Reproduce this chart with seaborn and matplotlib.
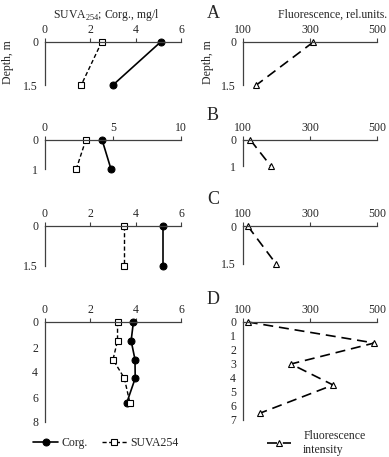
import pandas as pd
import numpy as np
import matplotlib
matplotlib.use("Agg")
from matplotlib import pyplot as plt
import seaborn as sns

sns.set_style("white")
plt.rcParams['font.family'] = ['Liberation Serif', 'DejaVu Serif']
plt.rcParams['mathtext.fontset'] = 'custom'
plt.rcParams['mathtext.rm'] = 'Liberation Serif'

# depth of samples, m
depth_a = [0, 1.5]
depth_b = [0, 1]
depth_c = [0, 1.5]
depth_d = [0, 1.5, 3, 4.5, 6.5]

# Corg., mg/l
corg_a = [5.1, 3.0]
corg_b = [4.2, 4.85]
corg_c = [5.2, 5.2]
corg_d = [3.9, 3.8, 3.97, 3.98, 3.6]

# SUVA254
suva_a = [2.5, 1.6]
suva_b = [3.0, 2.3]
suva_c = [3.5, 3.5]
suva_d = [3.2, 3.2, 3.0, 3.5, 3.75]

# fluorescence, rel. units
fluor_a = [310, 140]
fluor_b = [122, 183]
fluor_c = [114, 199]
fluor_d = [114, 492, 243, 369, 152]

panels = ["A", "B", "C", "D"]
depths = [depth_a, depth_b, depth_c, depth_d]
corgs = [corg_a, corg_b, corg_c, corg_d]
suvas = [suva_a, suva_b, suva_c, suva_d]
fluors = [fluor_a, fluor_b, fluor_c, fluor_d]

left_xlim = [(0, 6), (0, 10), (0, 6), (0, 6)]
left_xticks = [[0, 2, 4, 6], [0, 5, 10], [0, 2, 4, 6], [0, 2, 4, 6]]
ymax_left = [1.5, 1, 1.5, 8]
ymax_right = [1.5, 1, 1.5, 7]
yticks_left = [[0, 1.5], [0, 1], [0, 1.5], [0, 2, 4, 6, 8]]
yticks_right = [[0, 1.5], [0, 1], [0, 1.5], list(range(8))]

W, H = 389, 457
fig = plt.figure(figsize=(W / 100, H / 100), dpi=100)

# rows in pixels: (top, bottom left, bottom right)
rows = [(42, 85, 85), (140, 169, 166), (226, 266, 264), (322, 422, 420)]
lx0, lx1 = 45, 181
rx0, rx1 = 243, 377

axc = "#404040"
fs = 8.5


def style(ax, ymax, yt):
    for s in ["right", "bottom"]:
        ax.spines[s].set_visible(False)
    for s in ["top", "left"]:
        ax.spines[s].set_color(axc)
        ax.spines[s].set_linewidth(0.9)
    ax.xaxis.tick_top()
    ax.set_ylim(ymax, 0)
    ax.set_yticks(yt)
    ax.set_yticklabels([("%g" % v) for v in yt])
    ax.tick_params(axis="both", direction="out", length=3, width=0.8,
                   color=axc, labelsize=fs, pad=2)
    ax.tick_params(axis="x", pad=1)
    ax.set_xlabel("")
    ax.set_ylabel("")
    ax.grid(False)


handles = {}
for i in range(4):
    top, bl, br = rows[i]
    axl = fig.add_axes([lx0 / W, 1 - bl / H, (lx1 - lx0) / W, (bl - top) / H])
    axr = fig.add_axes([rx0 / W, 1 - br / H, (rx1 - rx0) / W, (br - top) / H])

    df = pd.DataFrame({"depth": depths[i], "corg": corgs[i],
                       "suva": suvas[i], "fluor": fluors[i]})

    sns.lineplot(data=df, x="corg", y="depth", sort=False, estimator=None,
                 ax=axl, color="black", lw=1.2, marker="o", ms=5,
                 mfc="black", mec="black", clip_on=False, label="Corg.")
    sns.lineplot(data=df, x="suva", y="depth", sort=False, estimator=None,
                 ax=axl, color="black", lw=1.0, marker="s", ms=4.5,
                 mfc="white", mec="black", mew=0.8, dashes=False,
                 linestyle=(0, (3, 1.8)), clip_on=False, label="SUVA254")
    sns.lineplot(data=df, x="fluor", y="depth", sort=False, estimator=None,
                 ax=axr, color="black", lw=1.2, marker="^", ms=4.5,
                 mfc="white", mec="black", mew=0.8,
                 linestyle=(0, (6, 3.5)), clip_on=False,
                 label="Fluorescence\nintensity")

    axl.set_xlim(*left_xlim[i])
    axl.set_xticks(left_xticks[i])
    axr.set_xlim(100, 500)
    axr.set_xticks([100, 300, 500])
    style(axl, ymax_left[i], yticks_left[i])
    style(axr, ymax_right[i], yticks_right[i])

    if i == 3:
        handles["l"] = axl.get_legend_handles_labels()
        handles["r"] = axr.get_legend_handles_labels()
    axl.get_legend().remove()
    axr.get_legend().remove()

    fig.text(207 / W, 1 - [14, 116, 200, 299][i] / H, panels[i],
             fontsize=13, ha="left", va="center")

fig.text(106 / W, 1 - 15 / H, r"SUVA$_{\mathregular{254}}$; Corg., mg/l",
         fontsize=fs, ha="center", va="center")
fig.text(333 / W, 1 - 15 / H, "Fluorescence, rel.units.",
         fontsize=fs, ha="center", va="center")
fig.text(8 / W, 1 - 62 / H, "Depth, m", fontsize=fs, rotation=90,
         ha="center", va="center")
fig.text(208 / W, 1 - 62 / H, "Depth, m", fontsize=fs, rotation=90,
         ha="center", va="center")

h, l = handles["l"]
fig.legend(h, l, loc="center", bbox_to_anchor=(106 / W, 1 - 443 / H),
           ncol=2, frameon=False, fontsize=fs, handlelength=2.1,
           handletextpad=0.3, columnspacing=1.2)
h, l = handles["r"]
fig.legend(h, l, loc="center", bbox_to_anchor=(316 / W, 1 - 443 / H),
           frameon=False, fontsize=fs, handlelength=2.1,
           handletextpad=1.0)

fig.savefig("out.png", dpi=100)
